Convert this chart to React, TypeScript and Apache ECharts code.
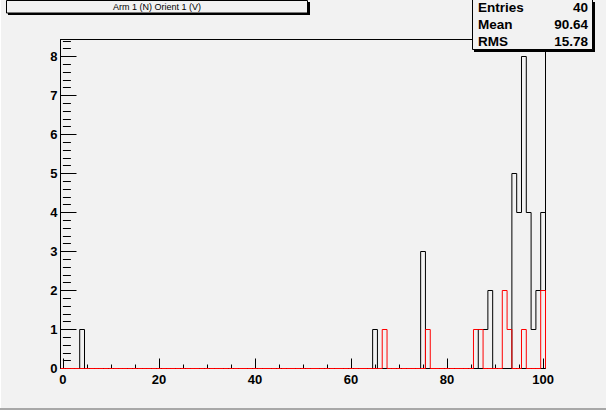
import React, { useEffect, useRef } from "react";
import * as echarts from "echarts";

// Histogram "Arm 1 (N) Orient 1 (V)": bins centred on integers 0..100
const blackBins = [4, 65, 75, 87, 88, 89, 94, 95, 96, 97, 98, 99, 100];
const blackCounts = [1, 1, 3, 1, 1, 2, 5, 4, 8, 4, 1, 2, 4];
const redBins = [67, 76, 86, 87, 92, 93, 96, 100];
const redCounts = [1, 1, 1, 1, 2, 1, 1, 2];

const xMajorTicks = [0, 20, 40, 60, 80, 100];
const xMinorTicks = [5, 10, 15, 25, 30, 35, 45, 50, 55, 65, 70, 75, 85, 90, 95];
const yMajorTicks = [0, 1, 2, 3, 4, 5, 6, 7, 8];

const statLabels = ["Entries", "Mean", "RMS"];
const statValues = ["40", "90.64", "15.78"];
const title = "Arm 1 (N) Orient 1 (V)";

const NBINS = 101;
const Y_MAX = 329 / 39;

function outline(bins: number[], counts: number[]): number[][] {
  const full: number[] = new Array(NBINS).fill(0);
  bins.forEach((b, i) => {
    full[b] = counts[i];
  });
  const pts: number[][] = [[-0.5, 0]];
  for (let k = 0; k < NBINS; k++) {
    pts.push([k - 0.5, full[k]]);
    pts.push([k + 0.5, full[k]]);
  }
  pts.push([100.5, 0]);
  return pts;
}

function yMinorTicks(): number[] {
  const out: number[] = [];
  for (let i = 1; i <= 42; i++) {
    if (i % 5 !== 0) out.push(Math.round(i * 0.2 * 10) / 10);
  }
  return out;
}

const FONT = "'Liberation Sans', Arial, Helvetica, sans-serif";

export default function App() {
  const ref = useRef<HTMLDivElement>(null);

  useEffect(() => {
    if (!ref.current) return;
    const chart = echarts.init(ref.current, undefined, { renderer: "svg" });
    const labelStyle = {
      color: "#000",
      fontSize: 13,
      fontWeight: "bold" as const,
      fontFamily: FONT,
    };
    const statTexts: any[] = [];
    statLabels.forEach((s, i) => {
      statTexts.push({
        type: "text",
        x: 478,
        y: 7.5 + i * 17,
        style: {
          text: s,
          fill: "#000",
          fontSize: 13.5,
          fontWeight: "bold",
          fontFamily: FONT,
          align: "left",
          verticalAlign: "middle",
        },
      });
      statTexts.push({
        type: "text",
        x: 588,
        y: 7.5 + i * 17,
        style: {
          text: statValues[i],
          fill: "#000",
          fontSize: 13.5,
          fontWeight: "bold",
          fontFamily: FONT,
          align: "right",
          verticalAlign: "middle",
        },
      });
    });

    chart.setOption({
      animation: false,
      backgroundColor: "#f2f2f2",
      grid: {
        left: 60.5,
        top: 39.5,
        width: 485,
        height: 329,
        show: true,
        borderColor: "#000",
        borderWidth: 1,
        backgroundColor: "transparent",
      },
      xAxis: [
        {
          type: "value",
          min: -0.5,
          max: 100.5,
          position: "bottom",
          axisLine: { show: true, onZero: false, lineStyle: { color: "#000", width: 1 } },
          axisTick: {
            show: true,
            inside: true,
            length: 10,
            customValues: xMajorTicks,
            lineStyle: { color: "#000", width: 1 },
          },
          axisLabel: { ...labelStyle, margin: 4, customValues: xMajorTicks },
          splitLine: { show: false },
        },
        {
          type: "value",
          min: -0.5,
          max: 100.5,
          position: "bottom",
          axisLine: { show: false },
          axisTick: {
            show: true,
            inside: true,
            length: 4,
            customValues: xMinorTicks,
            lineStyle: { color: "#000", width: 1 },
          },
          axisLabel: { show: false },
          splitLine: { show: false },
        },
      ],
      yAxis: [
        {
          type: "value",
          min: 0,
          max: Y_MAX,
          position: "left",
          axisLine: { show: true, onZero: false, lineStyle: { color: "#000", width: 1 } },
          axisTick: {
            show: true,
            inside: true,
            length: 16,
            customValues: yMajorTicks,
            lineStyle: { color: "#000", width: 1 },
          },
          axisLabel: { ...labelStyle, margin: 3, customValues: yMajorTicks },
          splitLine: { show: false },
        },
        {
          type: "value",
          min: 0,
          max: Y_MAX,
          position: "left",
          axisLine: { show: false },
          axisTick: {
            show: true,
            inside: true,
            length: 8,
            customValues: yMinorTicks(),
            lineStyle: { color: "#000", width: 1 },
          },
          axisLabel: { show: false },
          splitLine: { show: false },
        },
      ],
      series: [
        {
          type: "line",
          xAxisIndex: 0,
          yAxisIndex: 0,
          data: outline(blackBins, blackCounts),
          symbol: "none",
          silent: true,
          clip: false,
          lineStyle: { color: "#000", width: 1 },
          z: 3,
        },
        {
          type: "line",
          xAxisIndex: 0,
          yAxisIndex: 0,
          data: outline(redBins, redCounts),
          symbol: "none",
          silent: true,
          clip: false,
          lineStyle: { color: "#ff0000", width: 1 },
          z: 4,
        },
      ],
      graphic: [
        // canvas borders
        { type: "rect", shape: { x: 0, y: 408, width: 606, height: 2 }, style: { fill: "#a8a8a8" }, z: 1 },
        { type: "rect", shape: { x: 0, y: 0, width: 1, height: 408 }, style: { fill: "#ffffff" }, z: 1 },
        // title box
        { type: "rect", shape: { x: 8, y: 2, width: 302, height: 13 }, style: { fill: "#000" }, z: 10 },
        {
          type: "rect",
          shape: { x: 6.5, y: 0.5, width: 301, height: 12.5 },
          style: { fill: "#f2f2f2", stroke: "#000", lineWidth: 1 },
          z: 11,
        },
        {
          type: "text",
          x: 157,
          y: 7,
          style: {
            text: title,
            fill: "#000",
            fontSize: 9,
            fontFamily: FONT,
            align: "center",
            verticalAlign: "middle",
          },
          z: 12,
        },
        // stats box
        { type: "rect", shape: { x: 474, y: 2, width: 121, height: 50 }, style: { fill: "#000" }, z: 10 },
        {
          type: "rect",
          shape: { x: 472.5, y: -0.5, width: 120, height: 50 },
          style: { fill: "#f2f2f2", stroke: "#000", lineWidth: 1 },
          z: 11,
        },
        ...statTexts.map((t) => ({ ...t, z: 12 })),
      ],
    });
    return () => chart.dispose();
  }, []);

  return (
    <div
      ref={ref}
      style={{ position: "absolute", left: 0, top: 0, width: 606, height: 410 }}
    />
  );
}
